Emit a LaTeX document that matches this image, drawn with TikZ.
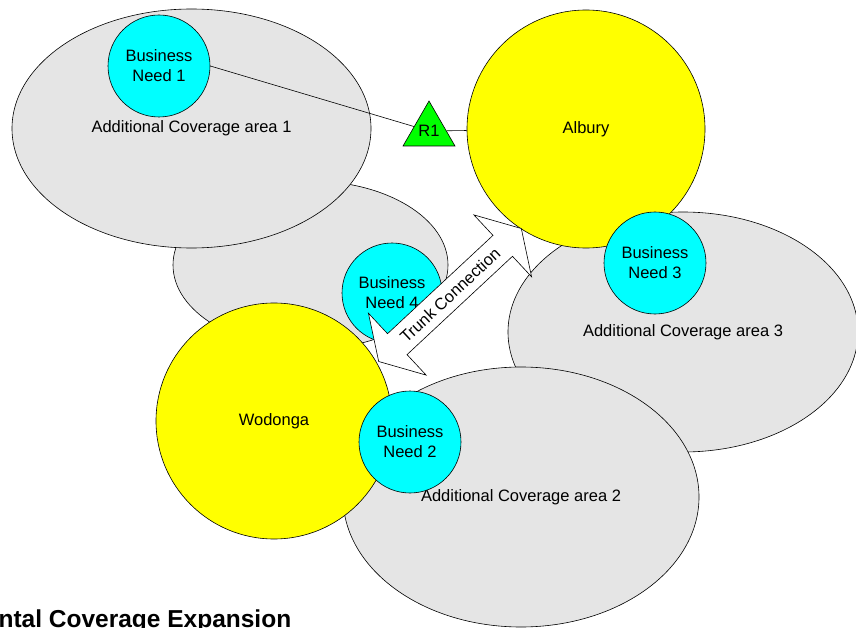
\documentclass[tikz,border=0pt]{standalone}
\usepackage{fontspec}
\setmainfont{Liberation Sans}
\usetikzlibrary{shapes.geometric, shapes.arrows}

\definecolor{areagray}{RGB}{229,229,229}
\definecolor{cityyellow}{RGB}{255,255,0}
\definecolor{needcyan}{RGB}{0,255,255}
\definecolor{routergreen}{RGB}{0,255,0}

\begin{document}
\begin{tikzpicture}[
    x=1pt, y=-1pt,
    every node/.style={font=\fontsize{16.5}{20}\selectfont},
    coverage/.style={ellipse, draw, fill=areagray, line width=0.6pt, inner sep=0pt},
    city/.style={circle, draw, fill=cityyellow, line width=0.6pt, inner sep=0pt},
    need/.style={circle, draw, fill=needcyan, line width=0.6pt, inner sep=0pt, minimum size=102pt, align=center},
    router/.style={regular polygon, regular polygon sides=3, draw, fill=routergreen, line width=0.6pt, inner sep=0pt, minimum size=60pt},
    trunk/.style={double arrow, draw, fill=white, line width=0.6pt, double arrow head extend=28pt, double arrow tip angle=118, inner xsep=0pt, inner ysep=8pt, text height=12pt, text depth=0pt},
    link/.style={line width=0.6pt}
]
    \useasboundingbox (0,0) rectangle (856,628);
    \clip (0,0) rectangle (856,628);

    % coverage areas
    \node[coverage, minimum width=275pt, minimum height=168pt] (area4) at (310.5, 265.0) {};
    \node[coverage, minimum width=359pt, minimum height=239pt] (area1) at (191.5, 128.5) {Additional Coverage area 1};
    \node[coverage, minimum width=350pt, minimum height=240pt] (area3) at (683.0, 332.0) {Additional Coverage area 3};
    \node[coverage, minimum width=356pt, minimum height=260pt] (area2) at (521.0, 497.0) {Additional Coverage area 2};

    % cities
    \node[city, minimum size=238pt] (albury) at (586.0, 129.0) {Albury};
    \node[city, minimum size=236pt] (wodonga) at (274.0, 421.0) {Wodonga};

    % business needs
    \node[need] (need1) at (159.0, 66.0) {Business\\Need 1};
    \node[need] (need2) at (410.0, 442.0) {Business\\Need 2};
    \node[need] (need3) at (655.0, 263.0) {Business\\Need 3};
    \node[need, minimum size=100pt] (need4) at (392.0, 293.0) {Business\\Need 4};

    % router and links
    \node[router] (r1) at (429.0, 131.0) {R1};
    \draw[link] (need1.east) -- (r1);
    \draw[link] (r1) -- (albury);

    % trunk between the cities
    \node[trunk, minimum height=195pt, rotate=43] (trunk) at (450.0, 295.0) {Trunk Connection};

    \node[anchor=base west, font=\fontsize{24.5}{28}\selectfont\bfseries] (title) at (-5.0, 627.0) {ntal Coverage Expansion};
\end{tikzpicture}
\end{document}
